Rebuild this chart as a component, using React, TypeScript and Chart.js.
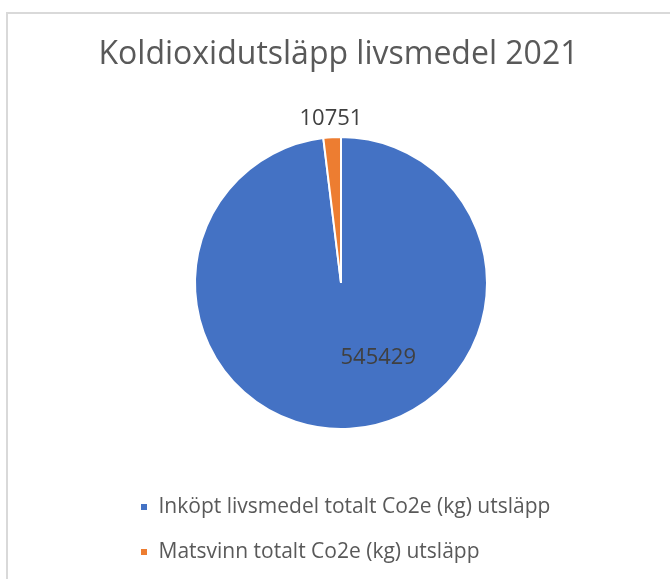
import React, { useEffect, useRef } from "react";
import { Chart, registerables } from "chart.js";

Chart.register(...registerables);

const TITLE = "Koldioxidutsläpp livsmedel 2021";
const CATEGORIES = [
  "Inköpt livsmedel totalt Co2e (kg) utsläpp",
  "Matsvinn totalt Co2e (kg) utsläpp",
];
const VALUES = [545429, 10751];
const COLORS = ["#4472C4", "#ED7D31"];

const FONT = "'Open Sans', 'Noto Sans', sans-serif";

// Let the title use the whole frame width (it is otherwise squeezed to the plot width)
const wideTitle = {
  id: "wideTitle",
  afterLayout(chart: any) {
    const t = chart.titleBlock;
    if (t) {
      t.left = 7;
      t.right = chart.width;
      t.width = t.right - t.left;
    }
  },
};

const dataLabels = {
  id: "dataLabels",
  afterDatasetsDraw(chart: any) {
    const meta = chart.getDatasetMeta(0);
    const ctx = chart.ctx;
    const total = VALUES.reduce((a, b) => a + b, 0);
    ctx.save();
    ctx.font = `22px ${FONT}`;
    ctx.fillStyle = "#404040";
    ctx.textAlign = "center";
    ctx.textBaseline = "middle";
    meta.data.forEach((arc: any, i: number) => {
      const { x, y, startAngle, endAngle, outerRadius } = arc.getProps(
        ["x", "y", "startAngle", "endAngle", "outerRadius"],
        true
      );
      const frac = VALUES[i] / total;
      let lx: number, ly: number;
      if (frac < 0.05) {
        const mid = (startAngle + endAngle) / 2;
        const d = outerRadius + 19;
        lx = x + Math.cos(mid) * d;
        ly = y + Math.sin(mid) * d;
      } else {
        const ang = (63.4 * Math.PI) / 180;
        const d = outerRadius * 0.57;
        lx = x + Math.cos(ang) * d;
        ly = y + Math.sin(ang) * d;
      }
      ctx.fillText(String(VALUES[i]), lx, ly);
    });
    ctx.restore();
  },
};

export default function App() {
  const ref = useRef<HTMLCanvasElement | null>(null);
  useEffect(() => {
    if (!ref.current) return;
    const chart = new Chart(ref.current, {
      type: "pie",
      data: {
        labels: CATEGORIES,
        datasets: [
          {
            data: VALUES,
            backgroundColor: COLORS,
            borderColor: "#ffffff",
            borderWidth: 2,
          },
        ],
      },
      options: {
        animation: false,
        responsive: false,
        events: [],
        radius: 146,
        layout: { padding: { left: 116, right: 104, top: 0, bottom: 6.5 } },
        plugins: {
          title: {
            display: true,
            text: TITLE,
            color: "#595959",
            font: { family: FONT, size: 32, weight: "normal", lineHeight: 1.2 },
            padding: { top: 35.9, bottom: 19.2 },
          },
          legend: {
            position: "bottom",
            align: "start",
            labels: {
              color: "#595959",
              font: { family: FONT, size: 21 },
              boxWidth: 8,
              boxHeight: 8,
              padding: 24,
            },
          },
          tooltip: { enabled: false },
        },
      } as any,
      plugins: [wideTitle, dataLabels],
    });
    return () => chart.destroy();
  }, []);
  return (
    <div style={{ position: "fixed", left: 0, top: 0, width: 670, height: 579, background: "#fff", overflow: "hidden" }}>
      <div
        style={{
          position: "absolute",
          left: 6,
          top: 12,
          width: 700,
          height: 600,
          borderLeft: "2px solid #d9d9d9",
          borderTop: "2px solid #d9d9d9",
        }}
      />
      <canvas ref={ref} width={670} height={579} style={{ position: "absolute", left: 0, top: 0 }} />
    </div>
  );
}
